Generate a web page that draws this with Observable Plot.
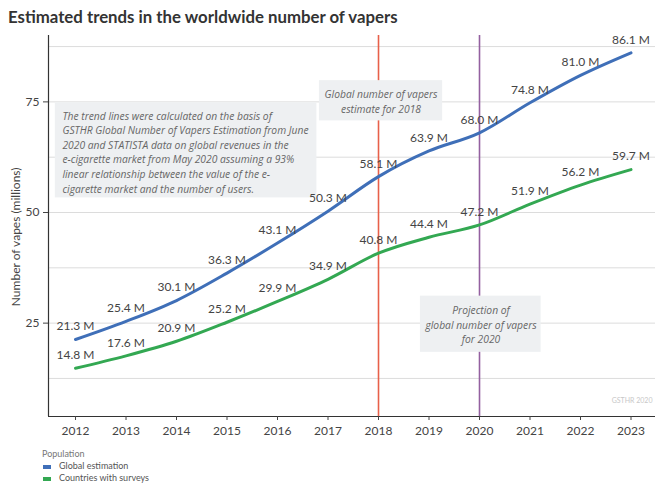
<!DOCTYPE html>
<html>
<head>
<meta charset="utf-8">
<script src="https://cdn.jsdelivr.net/npm/d3@7"></script>
<script src="https://cdn.jsdelivr.net/npm/@observablehq/plot@0.6"></script>
<style>
  body { margin: 0; background: #fff; font-family: Lato, "Open Sans", sans-serif; }
  #title { height: 30px; line-height: 34px; padding-left: 8px; font-size: 16.8px; font-weight: 700; color: #333; white-space: nowrap; }
  #legend { position: relative; height: 39px; font-size: 9px; color: #555; }
  #legend .hd { position: absolute; left: 42px; top: 3px; color: #777; }
  #legend .it { position: absolute; left: 59px; }
  #legend .sw { position: absolute; left: 43px; width: 8px; height: 4px; }
</style>
</head>
<body>
<div id="title">Estimated trends in the worldwide number of vapers</div>
<div id="chart"></div>
<div id="legend"></div>
<script>
const years = [2012, 2013, 2014, 2015, 2016, 2017, 2018, 2019, 2020, 2021, 2022, 2023];
const globalEstimation = [21.3, 25.4, 30.1, 36.3, 43.1, 50.3, 58.1, 63.9, 68.0, 74.8, 81.0, 86.1];
const countriesWithSurveys = [14.8, 17.6, 20.9, 25.2, 29.9, 34.9, 40.8, 44.4, 47.2, 51.9, 56.2, 59.7];
const seriesNames = ["Global estimation", "Countries with surveys"];
const seriesColors = ["#3f6fb8", "#33a852"];
const yTicks = [25, 50, 75];
const gridTicks = [12.5, 25, 37.5, 50, 62.5, 75, 87.5];
const markerYears = [2018, 2020];
const markerColors = ["#e8604a", "#9460a0"];
const yAxisTitle = "Number of vapes (millions)";

const noteText = "The trend lines were calculated on the basis of\nGSTHR Global Number of Vapers Estimation from June\n2020 and STATISTA data on global revenues in the\ne-cigarette market from May 2020 assuming a 93%\nlinear relationship between the value of the e-\ncigarette market and the number of users.";
const note2018 = "Global number of vapers\nestimate for 2018";
const note2020 = "Projection of\nglobal number of vapers\nfor 2020";

const xDomain = [2011.465, 2023.485];
const yDomain = [3.9, 90];

const data = years.flatMap((yr, i) => [
  {year: yr, value: globalEstimation[i], series: seriesNames[0]},
  {year: yr, value: countriesWithSurveys[i], series: seriesNames[1]}
]);

const boxes = [
  {x1: 2011.60, x2: 2016.78, y1: 53.3, y2: 74.8},
  {x1: 2016.83, x2: 2019.27, y1: 70.7, y2: 79.8},
  {x1: 2018.83, x2: 2021.22, y1: 18.4, y2: 31.1}
];
const leftNotes = [{x: 2011.74, y: 63.8, text: noteText}];
const centerNotes = [
  {x: 2018.05, y: 75.2, text: note2018},
  {x: 2020.03, y: 24.8, text: note2020}
];
const axisTitle = [{x: xDomain[0], y: 44.5, text: yAxisTitle}];

const fmt = v => d3.format(".1f")(v) + " M";
const noteStyle = {x: "x", y: "y", text: "text", lineAnchor: "middle", lineHeight: 1.42, fontSize: 10.3, fontStyle: "italic", fill: "#666", fontFamily: "'Open Sans', sans-serif"};

const chart = Plot.plot({
  width: 659,
  height: 415,
  marginLeft: 48,
  marginRight: 4,
  marginTop: 5,
  marginBottom: 29,
  style: {fontFamily: "Lato, 'Open Sans', sans-serif", background: "#fff"},
  x: {domain: xDomain, label: null},
  y: {domain: yDomain, label: null},
  color: {domain: seriesNames, range: seriesColors},
  marks: [
    Plot.ruleY(gridTicks, {stroke: "#dcdcdc", strokeWidth: 1}),
    Plot.ruleX(markerYears, {stroke: (d, i) => markerColors[i], strokeWidth: 1.6}),
    Plot.rect(boxes, {x1: "x1", x2: "x2", y1: "y1", y2: "y2", fill: "#eef0f2"}),
    Plot.text(leftNotes, {...noteStyle, textAnchor: "start"}),
    Plot.text(centerNotes, {...noteStyle, textAnchor: "middle"}),
    Plot.line(data, {x: "year", y: "value", stroke: "series", z: "series", strokeWidth: 3, curve: "monotone-x"}),
    Plot.text(data, {x: "year", y: "value", text: d => fmt(d.value), dy: -13, fontSize: 12, fill: "#444"}),
    Plot.ruleX([xDomain[0]], {stroke: "#333", strokeWidth: 1.2}),
    Plot.ruleY([yDomain[0]], {stroke: "#333", strokeWidth: 1.2}),
    Plot.axisY({ticks: yTicks, tickSize: 5, tickFormat: d => d, fontSize: 12, color: "#444", label: null}),
    Plot.text(axisTitle, {x: "x", y: "y", text: "text", textAnchor: "middle", rotate: -90, dx: -32, fontSize: 12, fill: "#444"}),
    Plot.axisX({ticks: years, tickSize: 4, tickFormat: d => String(d), fontSize: 12, color: "#444", tickPadding: 6, label: null}),
    Plot.text(["GSTHR 2020"], {frameAnchor: "bottom-right", dx: -3, dy: -14, fontSize: 7, fill: "#c8c8c8"})
  ]
});
document.getElementById("chart").appendChild(chart);

const legend = document.getElementById("legend");
legend.innerHTML = `<div class="hd">Population</div>` + seriesNames.map((n, i) =>
  `<div class="sw" style="top:${20 + i * 12}px;background:${seriesColors[i]}"></div><div class="it" style="top:${15 + i * 12}px">${n}</div>`
).join("");
</script>
</body>
</html>
